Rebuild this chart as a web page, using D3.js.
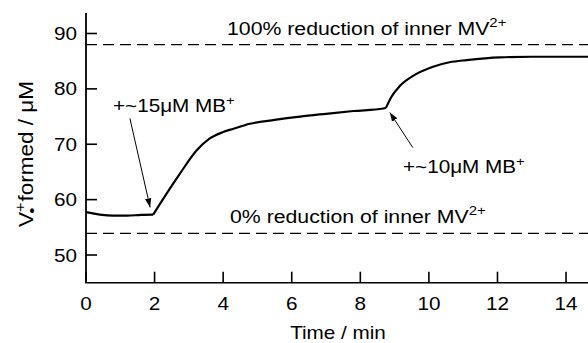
<!DOCTYPE html>
<html><head><meta charset="utf-8">
<script src="https://cdn.jsdelivr.net/npm/d3@7"></script>
<style>
body{margin:0;background:#fff;}
svg{display:block;font-family:"Liberation Sans",Arial,Helvetica,sans-serif;}
</style></head>
<body><svg id="c" width="588" height="343"></svg>
<script>
const timeMin = [0,0.4,0.8,1.2,1.6,1.96, 2.35,2.74,3.23,3.6,4.0,4.3,4.78,5.5,6.24,7.0,7.8,8.67,8.75, 8.9,9.15,9.5,10.12,10.6,11.1,12.07,13,14,14.64];
const vFormed = [57.75,57.3,57.1,57.1,57.25,57.3, 61.1,64.7,68.9,71.0,72.2,72.8,73.7,74.4,75.0,75.5,76.0,76.45,76.6, 78.5,80.5,82.2,84.0,84.8,85.2,85.7,85.8,85.8,85.8];
const segmentBreaks = [5, 18]; // indices of injection kinks
const xTicks = [0,2,4,6,8,10,12,14];
const yTicks = [50,60,70,80,90];
const refLevels = [88, 53.9];

const SX = 1.15; // horizontal stretch of the lettering
const svg = d3.select("#c");
const x = d3.scaleLinear().domain([0,14.64]).range([86,588]);
const y = d3.scaleLinear().domain([45,93.7]).range([282.7,13]);

function stext(px,py,anchor,size){
  return svg.append("text").attr("transform",`translate(${px},${py}) scale(${SX},1)`)
    .attr("text-anchor",anchor).attr("font-size",size).attr("fill","#000");
}

// axes
svg.append("line").attr("x1",x(0)).attr("x2",x(0)).attr("y1",y(93.7)).attr("y2",y(45))
  .attr("stroke","#000").attr("stroke-width",1.8);
svg.append("line").attr("x1",x(0)-0.9).attr("x2",588).attr("y1",y(45)).attr("y2",y(45))
  .attr("stroke","#000").attr("stroke-width",1.6);

// ticks (inward)
const tickG = svg.append("g").attr("class","ticks");
xTicks.forEach(d=>{
  tickG.append("line").attr("x1",x(d)).attr("x2",x(d)).attr("y1",y(45)).attr("y2",y(45)-11)
    .attr("stroke","#000").attr("stroke-width",1.6);
});
yTicks.forEach(d=>{
  tickG.append("line").attr("x1",x(0)).attr("x2",x(0)+11).attr("y1",y(d)).attr("y2",y(d))
    .attr("stroke","#000").attr("stroke-width",1.6);
});
xTicks.forEach(d=>stext(x(d),310,"middle",18).text(d));
yTicks.forEach(d=>stext(77,y(d)+6.5,"end",18).text(d));

// reference dashed lines
refLevels.forEach(d=>{
  svg.append("line").attr("x1",x(0)).attr("x2",588).attr("y1",y(d)).attr("y2",y(d))
    .attr("stroke","#000").attr("stroke-width",1.3).attr("stroke-dasharray","11,6");
});

// curve segments
const pts = timeMin.map((t,i)=>[t,vFormed[i]]);
const bounds = [0, ...segmentBreaks, pts.length-1];
const line = d3.line().x(d=>x(d[0])).y(d=>y(d[1])).curve(d3.curveMonotoneX);
for (let s=0;s<bounds.length-1;s++){
  svg.append("path").attr("d", line(pts.slice(bounds[s], bounds[s+1]+1)))
    .attr("fill","none").attr("stroke","#000").attr("stroke-width",2.2).attr("stroke-linejoin","round");
}

// arrows
const defs = svg.append("defs");
defs.append("marker").attr("id","ah").attr("viewBox","0 0 10 10").attr("refX",10).attr("refY",5)
  .attr("markerWidth",9).attr("markerHeight",9).attr("markerUnits","userSpaceOnUse").attr("orient","auto")
  .append("path").attr("d","M0,1.5 L10,5 L0,8.5 Z").attr("fill","#000");
const arrows = [[[1.28,74.67],[1.87,58.6]],[[9.53,69.4],[8.86,75.75]]];
arrows.forEach(a=>{
  svg.append("line").attr("x1",x(a[0][0])).attr("y1",y(a[0][1])).attr("x2",x(a[1][0])).attr("y2",y(a[1][1]))
    .attr("stroke","#000").attr("stroke-width",1).attr("marker-end","url(#ah)");
});

function label(px,py,parts,size){
  const t = stext(px,py,"start",size);
  parts.forEach(p=>{
    const ts = t.append("tspan").text(p.t);
    if(p.dy) ts.attr("dy",p.dy);
    if(p.s) ts.attr("font-size",p.s);
  });
  return t;
}
label(113,112,[{t:"+~15μM MB"},{t:"+",dy:-7,s:13}],18);
label(403,173,[{t:"+~10μM MB"},{t:"+",dy:-7,s:13}],18);
label(227,35,[{t:"100% reduction of inner MV"},{t:"2+",dy:-8,s:13}],18.5);
label(230,223,[{t:"0% reduction of inner MV"},{t:"2+",dy:-8,s:13}],18.5);

// axis titles
stext(338,339,"middle",18).text("Time / min");
const yl = svg.append("text").attr("transform","translate(33,154) rotate(-90) scale(1.25,1.1)").attr("text-anchor","middle").attr("font-size",18);
yl.append("tspan").text("V");
yl.append("tspan").attr("dy",-7).attr("font-size",13).text("+");
yl.append("tspan").attr("dx",-9).attr("dy",11).attr("font-size",14).text("•");
yl.append("tspan").attr("dy",-4).text(" formed / μM");
</script></body></html>
